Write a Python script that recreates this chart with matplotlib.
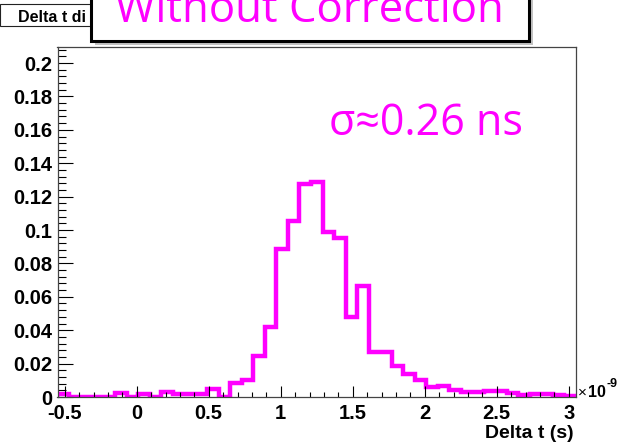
#!/usr/bin/env python
# encoding: UTF8

import numpy as np
import matplotlib
matplotlib.use('Agg')
import matplotlib.pyplot as plt
from matplotlib.patches import Rectangle
from matplotlib.ticker import MultipleLocator

# histogram of Delta t (units of 1e-9 s), 45 bins from -0.55 to 3.05
x_lo, x_hi, n_bins = -0.55, 3.05, 45
counts = [0.0015, 0, 0, 0, 0, 0.0025, 0, 0.0015, 0, 0.003,
          0.002, 0.0018, 0.0018, 0.0048, 0, 0.0082, 0.0102, 0.0247, 0.042, 0.0886,
          0.1054, 0.1275, 0.1285, 0.099, 0.095, 0.048, 0.0665, 0.027, 0.027, 0.0185,
          0.0135, 0.0102, 0.006, 0.0066, 0.0042, 0.0028, 0.003, 0.0038, 0.0038, 0.0022,
          0.0012, 0.0015, 0.0015, 0.001, 0.0006]
xticks = [-0.5, 0, 0.5, 1, 1.5, 2, 2.5, 3]
xtick_labels = ['-0.5', '0', '0.5', '1', '1.5', '2', '2.5', '3']
yticks = [0, 0.02, 0.04, 0.06, 0.08, 0.1, 0.12, 0.14, 0.16, 0.18, 0.2]
ytick_labels = ['0', '0.02', '0.04', '0.06', '0.08', '0.1', '0.12', '0.14', '0.16', '0.18', '0.2']

W, H = 625, 444
MAG = '#ff00ff'
plt.rcParams['font.family'] = ['Liberation Sans', 'DejaVu Sans']

fig = plt.figure(figsize=(W / 100, H / 100), dpi=100)


def fx(px):
    return px / W


def fy(py):
    return 1 - py / H


ax = fig.add_axes([fx(57.5), fy(397), fx(576) - fx(57.5), fy(47) - fy(397)])
edges = np.linspace(x_lo, x_hi, n_bins + 1)
ax.stairs(counts, edges, color=MAG, lw=3.2, baseline=0)
ax.set_xlim(x_lo, x_hi)
ax.set_ylim(0, 0.2096)

ax.set_xticks(xticks)
ax.set_xticklabels(xtick_labels, fontweight='bold', fontsize=14.5)
ax.set_yticks(yticks)
ax.set_yticklabels(ytick_labels, fontweight='bold', fontsize=14.5)
ax.xaxis.set_minor_locator(MultipleLocator(0.1))
ax.yaxis.set_minor_locator(MultipleLocator(0.004))
ax.xaxis.set_tick_params(which='major', direction='in', length=7.6, width=0.8, pad=5)
ax.xaxis.set_tick_params(which='minor', direction='in', length=3.6, width=0.8)
ax.yaxis.set_tick_params(which='major', direction='in', length=10.8, width=0.8, pad=4)
ax.yaxis.set_tick_params(which='minor', direction='in', length=5.4, width=0.8)
for s in ax.spines.values():
    s.set_color('#444444')
    s.set_linewidth(0.9)

# axis label and exponent
fig.text(fx(574), fy(438), 'Delta t (s)', ha='right', va='baseline',
         fontweight='bold', fontsize=14)
fig.text(fx(577.5), fy(397), '\u00d7', ha='left', va='baseline', fontsize=11)
fig.text(fx(588), fy(397), '10', ha='left', va='baseline', fontweight='bold', fontsize=11.5)
fig.text(fx(606.5), fy(387), '-9', ha='left', va='baseline', fontweight='bold', fontsize=9)

# ROOT title box (partly hidden)
fig.patches.append(Rectangle((fx(0), fy(26)), fx(140), fy(4) - fy(26),
                             transform=fig.transFigure, facecolor='white',
                             edgecolor='#222222', lw=0.8, zorder=1))
fig.text(fx(18), fy(21.5), 'Delta t di', ha='left', va='baseline',
         fontweight='bold', fontsize=11.5, zorder=2)

# overlay box with shadow
fig.patches.append(Rectangle((fx(95), fy(45)), fx(438), fy(-5) - fy(45),
                             transform=fig.transFigure, facecolor='#9a9a9a',
                             edgecolor='none', alpha=0.6, zorder=3))
fig.patches.append(Rectangle((fx(91), fy(41)), fx(438), fy(-5) - fy(41),
                             transform=fig.transFigure, facecolor='white',
                             edgecolor='black', lw=2.2, zorder=4))
fig.text(fx(309), fy(22), 'Without Correction', ha='center', va='baseline',
         color=MAG, fontsize=31.5, family='Open Sans', zorder=5)

ax.text(0.523, 0.749, '\u03c3\u22480.26 ns', transform=ax.transAxes,
        ha='left', va='baseline', color=MAG, fontsize=31, family='Open Sans')

fig.savefig('out.png', dpi=100)
